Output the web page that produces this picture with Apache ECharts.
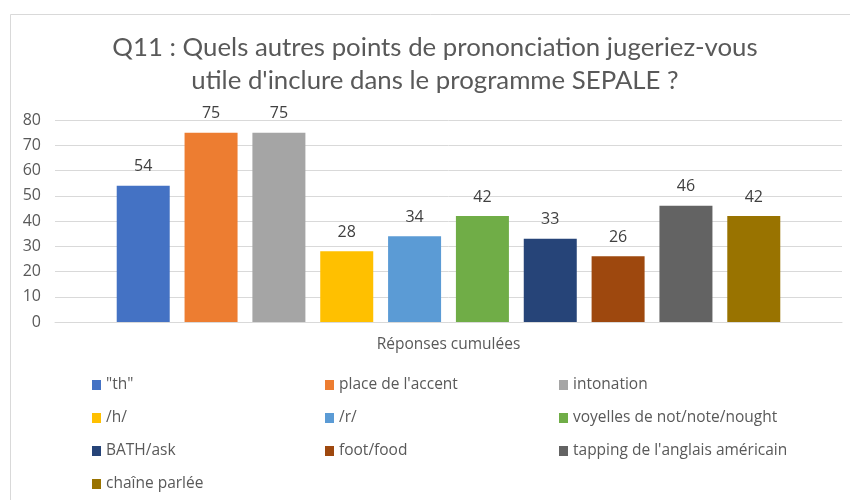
<!DOCTYPE html>
<html>
<head>
<meta charset="utf-8">
<script src="https://cdn.jsdelivr.net/npm/echarts@6/dist/echarts.min.js"></script>
<style>
html,body{margin:0;padding:0;background:#fff;}
#c{width:850px;height:500px;}
</style>
</head>
<body>
<div id="c"></div>
<script>
var titleText = "Q11 : Quels autres points de prononciation jugeriez-vous\nutile d'inclure dans le programme SEPALE ?";
var categories = ["Réponses cumulées"];
var seriesNames = ['"th"', "place de l'accent", "intonation", "/h/", "/r/", "voyelles de not/note/nought", "BATH/ask", "foot/food", "tapping de l'anglais américain", "chaîne parlée"];
var seriesValues = [54, 75, 75, 28, 34, 42, 33, 26, 46, 42];
var yTicks = [0, 10, 20, 30, 40, 50, 60, 70, 80];
var colors = ["#4472C4", "#ED7D31", "#A5A5A5", "#FFC000", "#5B9BD5", "#70AD47", "#264478", "#9E480E", "#636363", "#997300"];

var legendColX = [92, 325, 559];
var legendRowY = [385, 418, 451, 484];

var chart = echarts.init(document.getElementById('c'), null, {renderer: 'canvas'});

var series = seriesNames.map(function (name, i) {
  return {
    name: name,
    type: 'bar',
    data: [seriesValues[i]],
    barWidth: 53,
    barGap: '28%',
    itemStyle: {color: colors[i]},
    label: {
      show: true,
      position: 'top',
      distance: 11,
      color: '#404040',
      fontSize: 16,
      fontFamily: 'Open Sans'
    }
  };
});

var legends = seriesNames.map(function (name, i) {
  return {
    data: [name],
    left: legendColX[i % 3],
    top: legendRowY[Math.floor(i / 3)] - 9,
    itemWidth: 9,
    itemHeight: 10,
    icon: 'rect',
    padding: 0,
    itemGap: 0,
    selectedMode: false,
    textStyle: {
      color: '#595959',
      fontSize: 15.5,
      lineHeight: 18,
      fontFamily: 'Open Sans'
    }
  };
});

chart.setOption({
  animation: false,
  backgroundColor: '#ffffff',
  title: {
    text: titleText,
    left: 430,
    top: 26,
    textAlign: 'center',
    textStyle: {
      color: '#595959',
      fontSize: 25.8,
      fontWeight: 'normal',
      fontFamily: 'Lato',
      lineHeight: 33
    }
  },
  graphic: [{
    type: 'rect',
    shape: {x: 10.5, y: 14.5, width: 860, height: 500},
    style: {fill: 'none', stroke: '#d9d9d9', lineWidth: 1},
    silent: true,
    z: -1
  }],
  legend: legends,
  grid: {left: 55, right: 8, top: 120, bottom: 178, containLabel: false},
  xAxis: {
    type: 'category',
    data: categories,
    axisLine: {lineStyle: {color: '#d9d9d9'}},
    axisTick: {show: false},
    axisLabel: {color: '#595959', fontSize: 15.5, fontFamily: 'Open Sans', margin: 15}
  },
  yAxis: {
    type: 'value',
    min: yTicks[0],
    max: yTicks[yTicks.length - 1],
    interval: yTicks[1] - yTicks[0],
    axisLine: {show: false},
    axisTick: {show: false},
    splitLine: {lineStyle: {color: '#d9d9d9'}},
    axisLabel: {color: '#595959', fontSize: 16, fontFamily: 'Open Sans', margin: 14}
  },
  series: series
});
</script>
</body>
</html>
